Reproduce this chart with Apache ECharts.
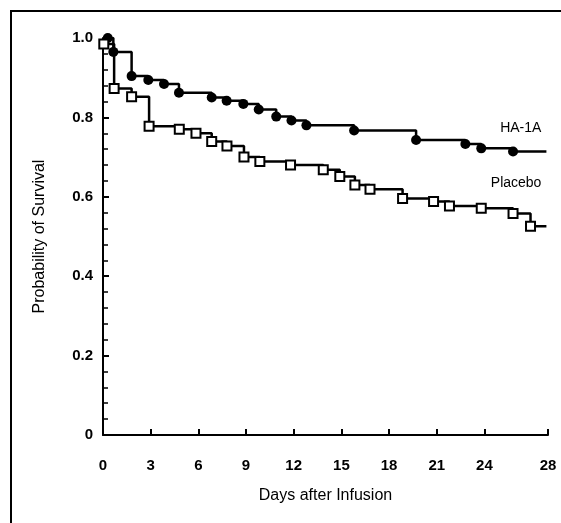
<!DOCTYPE html>
<html>
<head>
<meta charset="utf-8">
<script src="https://cdn.jsdelivr.net/npm/echarts@6/dist/echarts.min.js"></script>
<style>
  html, body { margin: 0; padding: 0; background: #fff; }
  #chart { width: 561px; height: 523px; }
</style>
</head>
<body>
<div id="chart"></div>
<script>
// Kaplan-Meier steps (day, survival)
const haDays = [0, 0.3, 0.65, 1.8, 2.85, 3.84, 4.78, 6.84, 7.78, 8.83, 9.8, 10.9, 11.86, 12.8, 15.8, 19.7, 22.8, 23.8, 25.8, 27.9]
const haSurv = [1.0, 1.0, 0.965, 0.904, 0.894, 0.884, 0.862, 0.85, 0.842, 0.834, 0.82, 0.802, 0.792, 0.78, 0.767, 0.743, 0.733, 0.722, 0.714, 0.714]
const plDays = [0, 0.05, 0.7, 1.8, 2.9, 4.8, 5.85, 6.84, 7.8, 8.87, 9.87, 11.8, 13.86, 14.9, 15.85, 16.8, 18.85, 20.8, 21.8, 23.8, 25.8, 26.9, 27.9]
const plSurv = [1.0, 0.985, 0.873, 0.852, 0.778, 0.77, 0.76, 0.739, 0.728, 0.7, 0.689, 0.68, 0.668, 0.651, 0.63, 0.619, 0.596, 0.588, 0.577, 0.571, 0.558, 0.526, 0.526]
const xTicks = [0, 3, 6, 9, 12, 15, 18, 21, 24, 28]

const chart = echarts.init(document.getElementById('chart'))
const font = 'Liberation Sans, Arial, Helvetica, sans-serif'

// first and last points are only step ends, no censor mark
const toData = (days, surv) =>
  days.map((d, i) => (i === 0 || i === days.length - 1 ? { value: [d, surv[i]], symbol: 'none' } : [d, surv[i]]))

const option = {
  backgroundColor: '#fff',
  animation: false,
  graphic: [
    {
      type: 'rect',
      shape: { x: 11, y: 11, width: 700, height: 700 },
      style: { fill: 'none', stroke: '#000', lineWidth: 2 },
    },
  ],
  grid: { left: 103, right: 13, top: 38, bottom: 88 },
  xAxis: {
    type: 'value',
    min: 0,
    max: 28,
    name: 'Days after Infusion',
    nameLocation: 'middle',
    nameGap: 53,
    nameTextStyle: { color: '#000', fontSize: 16, fontFamily: font },
    splitLine: { show: false },
    axisLine: { lineStyle: { color: '#000', width: 2 } },
    axisTick: { inside: true, length: 6, lineStyle: { color: '#000', width: 2 }, customValues: xTicks },
    axisLabel: { color: '#000', fontSize: 15, fontWeight: 'bold', fontFamily: font, margin: 23, customValues: xTicks },
  },
  yAxis: {
    type: 'value',
    min: 0,
    max: 1,
    interval: 0.2,
    name: 'Probability of Survival',
    nameLocation: 'middle',
    nameGap: 55,
    nameTextStyle: { color: '#000', fontSize: 16, fontFamily: font },
    splitLine: { show: false },
    axisLine: { show: true, lineStyle: { color: '#000', width: 2 } },
    axisTick: { inside: true, length: 6, lineStyle: { color: '#000', width: 2 } },
    minorTick: { show: true, splitNumber: 5, length: 5, lineStyle: { color: '#000', width: 1.5 } },
    axisLabel: {
      color: '#000',
      fontSize: 15,
      fontWeight: 'bold',
      fontFamily: font,
      margin: 10,
      formatter: v => (v === 0 ? '0' : v.toFixed(1)),
    },
  },
  series: [
    {
      name: 'HA-1A',
      type: 'line',
      step: 'end',
      data: toData(haDays, haSurv),
      symbol: 'circle',
      symbolSize: 10,
      showAllSymbol: true,
      itemStyle: { color: '#000' },
      lineStyle: { color: '#000', width: 2.5 },
      markPoint: {
        symbolSize: 0,
        data: [{ coord: [27.9, 0.773] }],
        label: { show: true, position: 'left', formatter: 'HA-1A', color: '#000', fontSize: 14, fontFamily: font },
      },
    },
    {
      name: 'Placebo',
      type: 'line',
      step: 'end',
      data: toData(plDays, plSurv),
      symbol: 'rect',
      symbolSize: 9,
      showAllSymbol: true,
      itemStyle: { color: '#fff', borderColor: '#000', borderWidth: 2 },
      lineStyle: { color: '#000', width: 2.5 },
      markPoint: {
        symbolSize: 0,
        data: [{ coord: [27.9, 0.635] }],
        label: { show: true, position: 'left', formatter: 'Placebo', color: '#000', fontSize: 14, fontFamily: font },
      },
    },
  ],
}

chart.setOption(option)
</script>
</body>
</html>
